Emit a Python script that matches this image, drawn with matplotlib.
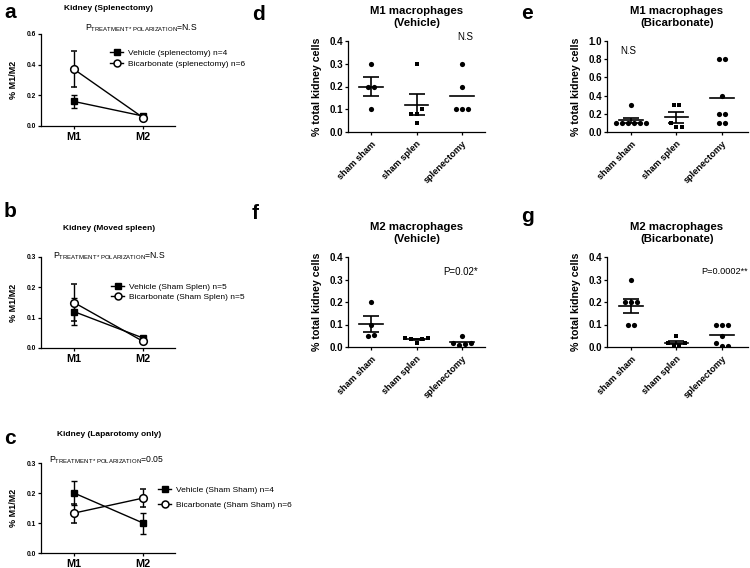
import matplotlib
matplotlib.use('Agg')
import matplotlib.pyplot as plt
from matplotlib.lines import Line2D
import numpy as np

plt.rcParams['font.family'] = ['Liberation Sans', 'DejaVu Sans']
plt.rcParams['mathtext.fontset'] = 'custom'
plt.rcParams['mathtext.rm'] = 'Liberation Sans'
plt.rcParams['mathtext.it'] = 'Liberation Sans:italic'
plt.rcParams['mathtext.bf'] = 'Liberation Sans:bold'

W, H = 750, 568

# ---- panels a-c: M1 / M2 ratio, mean and SEM
polarization = ['M1', 'M2']

a_vehicle_mean = [0.16, 0.065]
a_vehicle_sem = [0.04, 0.008]
a_bicarb_mean = [0.37, 0.055]
a_bicarb_sem = [0.117, 0.008]

b_vehicle_mean = [0.12, 0.033]
b_vehicle_sem = [0.045, 0.004]
b_bicarb_mean = [0.15, 0.022]
b_bicarb_sem = [0.062, 0.004]

c_vehicle_mean = [0.20, 0.10]
c_vehicle_sem = [0.04, 0.035]
c_bicarb_mean = [0.133, 0.183]
c_bicarb_sem = [0.032, 0.031]

# ---- panels d-g: individual animals
groups = ['sham sham', 'sham splen', 'splenectomy']

d_sham_sham = [0.3, 0.2, 0.2, 0.1]
d_sham_splen = [0.3, 0.08, 0.08, 0.1, 0.04]
d_splenectomy = [0.3, 0.2, 0.1, 0.1, 0.1]

e_sham_sham = [0.3, 0.1, 0.1, 0.1, 0.1, 0.1, 0.1]
e_sham_splen = [0.3, 0.3, 0.1, 0.05, 0.05]
e_splenectomy = [0.8, 0.8, 0.4, 0.2, 0.2, 0.1, 0.1]

f_sham_sham = [0.2, 0.1, 0.047, 0.055]
f_sham_splen = [0.04, 0.035, 0.02, 0.035, 0.04]
f_splenectomy = [0.05, 0.02, 0.01, 0.015, 0.02]

g_sham_sham = [0.3, 0.2, 0.2, 0.2, 0.1, 0.1]
g_sham_splen = [0.05, 0.02, 0.005, 0.005, 0.02]
g_splenectomy = [0.1, 0.1, 0.1, 0.05, 0.02, 0.005, 0.005]


fig = plt.figure(figsize=(W / 100, H / 100), dpi=100)


def px_rect(left, top, right, bottom):
    return [left / W, 1 - bottom / H, (right - left) / W, (bottom - top) / H]


def fx(x):
    return x / W


def fy(y):
    return 1 - y / H


def style_axes(ax):
    for side in ['top', 'right']:
        ax.spines[side].set_visible(False)
    for side in ['left', 'bottom']:
        ax.spines[side].set_linewidth(0.9)
    ax.tick_params(width=0.9, length=2.2, color='black')


def swarm_offsets(vals, tol, step=0.13):
    # points of (nearly) the same value sit side by side, centred on the group
    vals = np.asarray(vals, float)
    order = np.argsort(vals, kind='stable')
    clusters = []
    for idx in order:
        if clusters and vals[idx] - vals[clusters[-1][0]] <= tol + 1e-9:
            clusters[-1].append(idx)
        else:
            clusters.append([idx])
    offs = np.zeros(len(vals))
    for cl in clusters:
        cl = sorted(cl)
        n = len(cl)
        for k, idx in enumerate(cl):
            offs[idx] = (k - (n - 1) / 2) * step
    return offs


def line_panel(rect, ymax, veh_mean, veh_sem, bic_mean, bic_sem, labels,
               leg_xy, leg_space):
    ax = fig.add_axes(rect)
    style_axes(ax)
    x = np.arange(len(polarization))
    ax.errorbar(x, veh_mean, yerr=veh_sem, color='black', lw=1, marker='s',
                markersize=5, capsize=2.5, elinewidth=1, capthick=1, zorder=3)
    ax.errorbar(x, bic_mean, yerr=bic_sem, color='black', lw=1, marker='o',
                markersize=5.5, mfc='white', mec='black', mew=1.1,
                capsize=2.5, elinewidth=1, capthick=1, zorder=4)
    ax.set_xlim(-0.478, 1.464)
    ax.set_ylim(0, ymax)
    ax.set_yticks(np.linspace(0, ymax, 4))
    ax.set_yticklabels(['{:.1f}'.format(v) for v in np.linspace(0, ymax, 4)],
                       fontsize=4.8, fontweight='bold')
    ax.set_xticks(x)
    ax.set_xticklabels(polarization, fontsize=7.8, fontweight='bold')
    ax.tick_params(axis='x', pad=2)
    ax.tick_params(axis='y', pad=1.5)
    ax.set_ylabel('% M1/M2', fontsize=6.5, fontweight='bold')
    ax.yaxis.set_label_coords(-0.172, 0.5)
    handles = [
        Line2D([], [], color='black', lw=1, marker='s', markersize=4.5),
        Line2D([], [], color='black', lw=1, marker='o', markersize=5,
               mfc='white', mec='black', mew=1.1),
    ]
    ax.legend(handles, labels, loc='center left',
              bbox_to_anchor=(fx(leg_xy[0]), fy(leg_xy[1])),
              bbox_transform=fig.transFigure, frameon=False, fontsize=6,
              handlelength=1.6, handletextpad=0.6, labelspacing=leg_space,
              borderpad=0, borderaxespad=0)
    return ax


def scatter_panel(rect, xlim, ymax, values):
    ax = fig.add_axes(rect)
    style_axes(ax)
    markers = ['o', 's', 'o']
    for i, vals in enumerate(values):
        offs = swarm_offsets(vals, ymax * 0.05)
        ax.scatter(i + offs, vals, marker=markers[i], s=14 if markers[i] == 'o' else 12,
                   c='black', linewidths=0, zorder=3)
        m = np.mean(vals)
        ax.plot([i - 0.26, i + 0.26], [m, m], color='black', lw=1.2, zorder=2)
        if i < 2:
            sem = np.std(vals, ddof=1) / np.sqrt(len(vals))
            ax.errorbar(i, m, yerr=sem, fmt='none', ecolor='black',
                        elinewidth=1.2, capsize=5.6, capthick=1.2, zorder=2)
    ax.set_xlim(*xlim)
    ax.set_ylim(0, ymax)
    ticks = np.linspace(0, ymax, 5 if ymax < 0.5 else 6)
    ax.set_yticks(ticks)
    ax.set_yticklabels(['{:.1f}'.format(v) for v in ticks], fontsize=7,
                       fontweight='bold')
    ax.set_xticks(range(len(groups)))
    ax.set_xticklabels(groups, rotation=45, ha='right', va='top',
                       rotation_mode='anchor', fontsize=6.6, fontweight='bold')
    ax.tick_params(axis='y', pad=1.5)
    ax.tick_params(axis='x', pad=3)
    ax.set_ylabel('% total kidney cells', fontsize=7.7, fontweight='bold')
    return ax


# ---- a
ax_a = line_panel(px_rect(41, 34, 175, 126), 0.6,
                  a_vehicle_mean, a_vehicle_sem, a_bicarb_mean, a_bicarb_sem,
                  ['Vehicle (splenectomy) n=4', 'Bicarbonate (splenectomy) n=6'],
                  (110, 58.5), 0.3)
# ---- b
ax_b = line_panel(px_rect(41, 257, 175, 348), 0.3,
                  b_vehicle_mean, b_vehicle_sem, b_bicarb_mean, b_bicarb_sem,
                  ['Vehicle (Sham Splen) n=5', 'Bicarbonate (Sham Splen) n=5'],
                  (111, 292), 0.3)
# ---- c
ax_c = line_panel(px_rect(41, 463, 175, 553), 0.3,
                  c_vehicle_mean, c_vehicle_sem, c_bicarb_mean, c_bicarb_sem,
                  ['Vehicle (Sham Sham) n=4', 'Bicarbonate (Sham Sham) n=6'],
                  (158, 497.5), 0.9)

sub = r'P$_{\mathrm{TREATMENT*POLARIZATION}}$'
fig.text(fx(85), fy(31), sub + '=N.S', fontsize=6.2, va='baseline')
fig.text(fx(53), fy(259), sub + '=N.S', fontsize=6.2, va='baseline')
fig.text(fx(49), fy(462), sub + '=0.05', fontsize=6.2, va='baseline')

fig.text(fx(109), fy(8), 'Kidney (Splenectomy)', fontsize=6, fontweight='bold',
         ha='center', va='center')
fig.text(fx(109), fy(229), 'Kidney (Moved spleen)', fontsize=6, fontweight='bold',
         ha='center', va='center')
fig.text(fx(109), fy(435), 'Kidney (Laparotomy only)', fontsize=6,
         fontweight='bold', ha='center', va='center')

# ---- d-g
ax_d = scatter_panel(px_rect(348, 41, 485, 132), (-0.505, 2.505), 0.4,
                     [d_sham_sham, d_sham_splen, d_splenectomy])
ax_e = scatter_panel(px_rect(607, 41, 748, 132), (-0.527, 2.571), 1.0,
                     [e_sham_sham, e_sham_splen, e_splenectomy])
ax_f = scatter_panel(px_rect(348, 257, 485, 347), (-0.505, 2.505), 0.4,
                     [f_sham_sham, f_sham_splen, f_splenectomy])
ax_g = scatter_panel(px_rect(607, 257, 748, 347), (-0.527, 2.571), 0.4,
                     [g_sham_sham, g_sham_splen, g_splenectomy])
ax_d.yaxis.set_label_coords((322 - 348) / 137, 0.5)
ax_f.yaxis.set_label_coords((322 - 348) / 137, 0.5)
ax_e.yaxis.set_label_coords((581 - 607) / 141, 0.5)
ax_g.yaxis.set_label_coords((581 - 607) / 141, 0.5)

for xc, yc, t in [(417, 17, 'M1 macrophages\n(Vehicle)'),
                  (677, 17, 'M1 macrophages\n(Bicarbonate)'),
                  (417, 233, 'M2 macrophages\n(Vehicle)'),
                  (677, 233, 'M2 macrophages\n(Bicarbonate)')]:
    fig.text(fx(xc), fy(yc), t, fontsize=8.2, fontweight='bold', ha='center',
             va='center', multialignment='center', linespacing=1.2)

fig.text(fx(457), fy(37), 'N.S', fontsize=7, va='center')
fig.text(fx(620), fy(51), 'N.S', fontsize=7, va='center')
fig.text(fx(443), fy(272), 'P=0.02*', fontsize=7, va='center')
fig.text(fx(701), fy(272), 'P=0.0002**', fontsize=6.6, va='center')

# panel letters
for x, y, t in [(4, 18, 'a'), (4, 217, 'b'), (4, 444, 'c'),
                (252, 20, 'd'), (521, 19, 'e'), (252, 219, 'f'), (521, 222, 'g')]:
    fig.text(fx(x), fy(y), t, fontsize=15, fontweight='bold', va='baseline')

fig.savefig('out.png', dpi=100)
